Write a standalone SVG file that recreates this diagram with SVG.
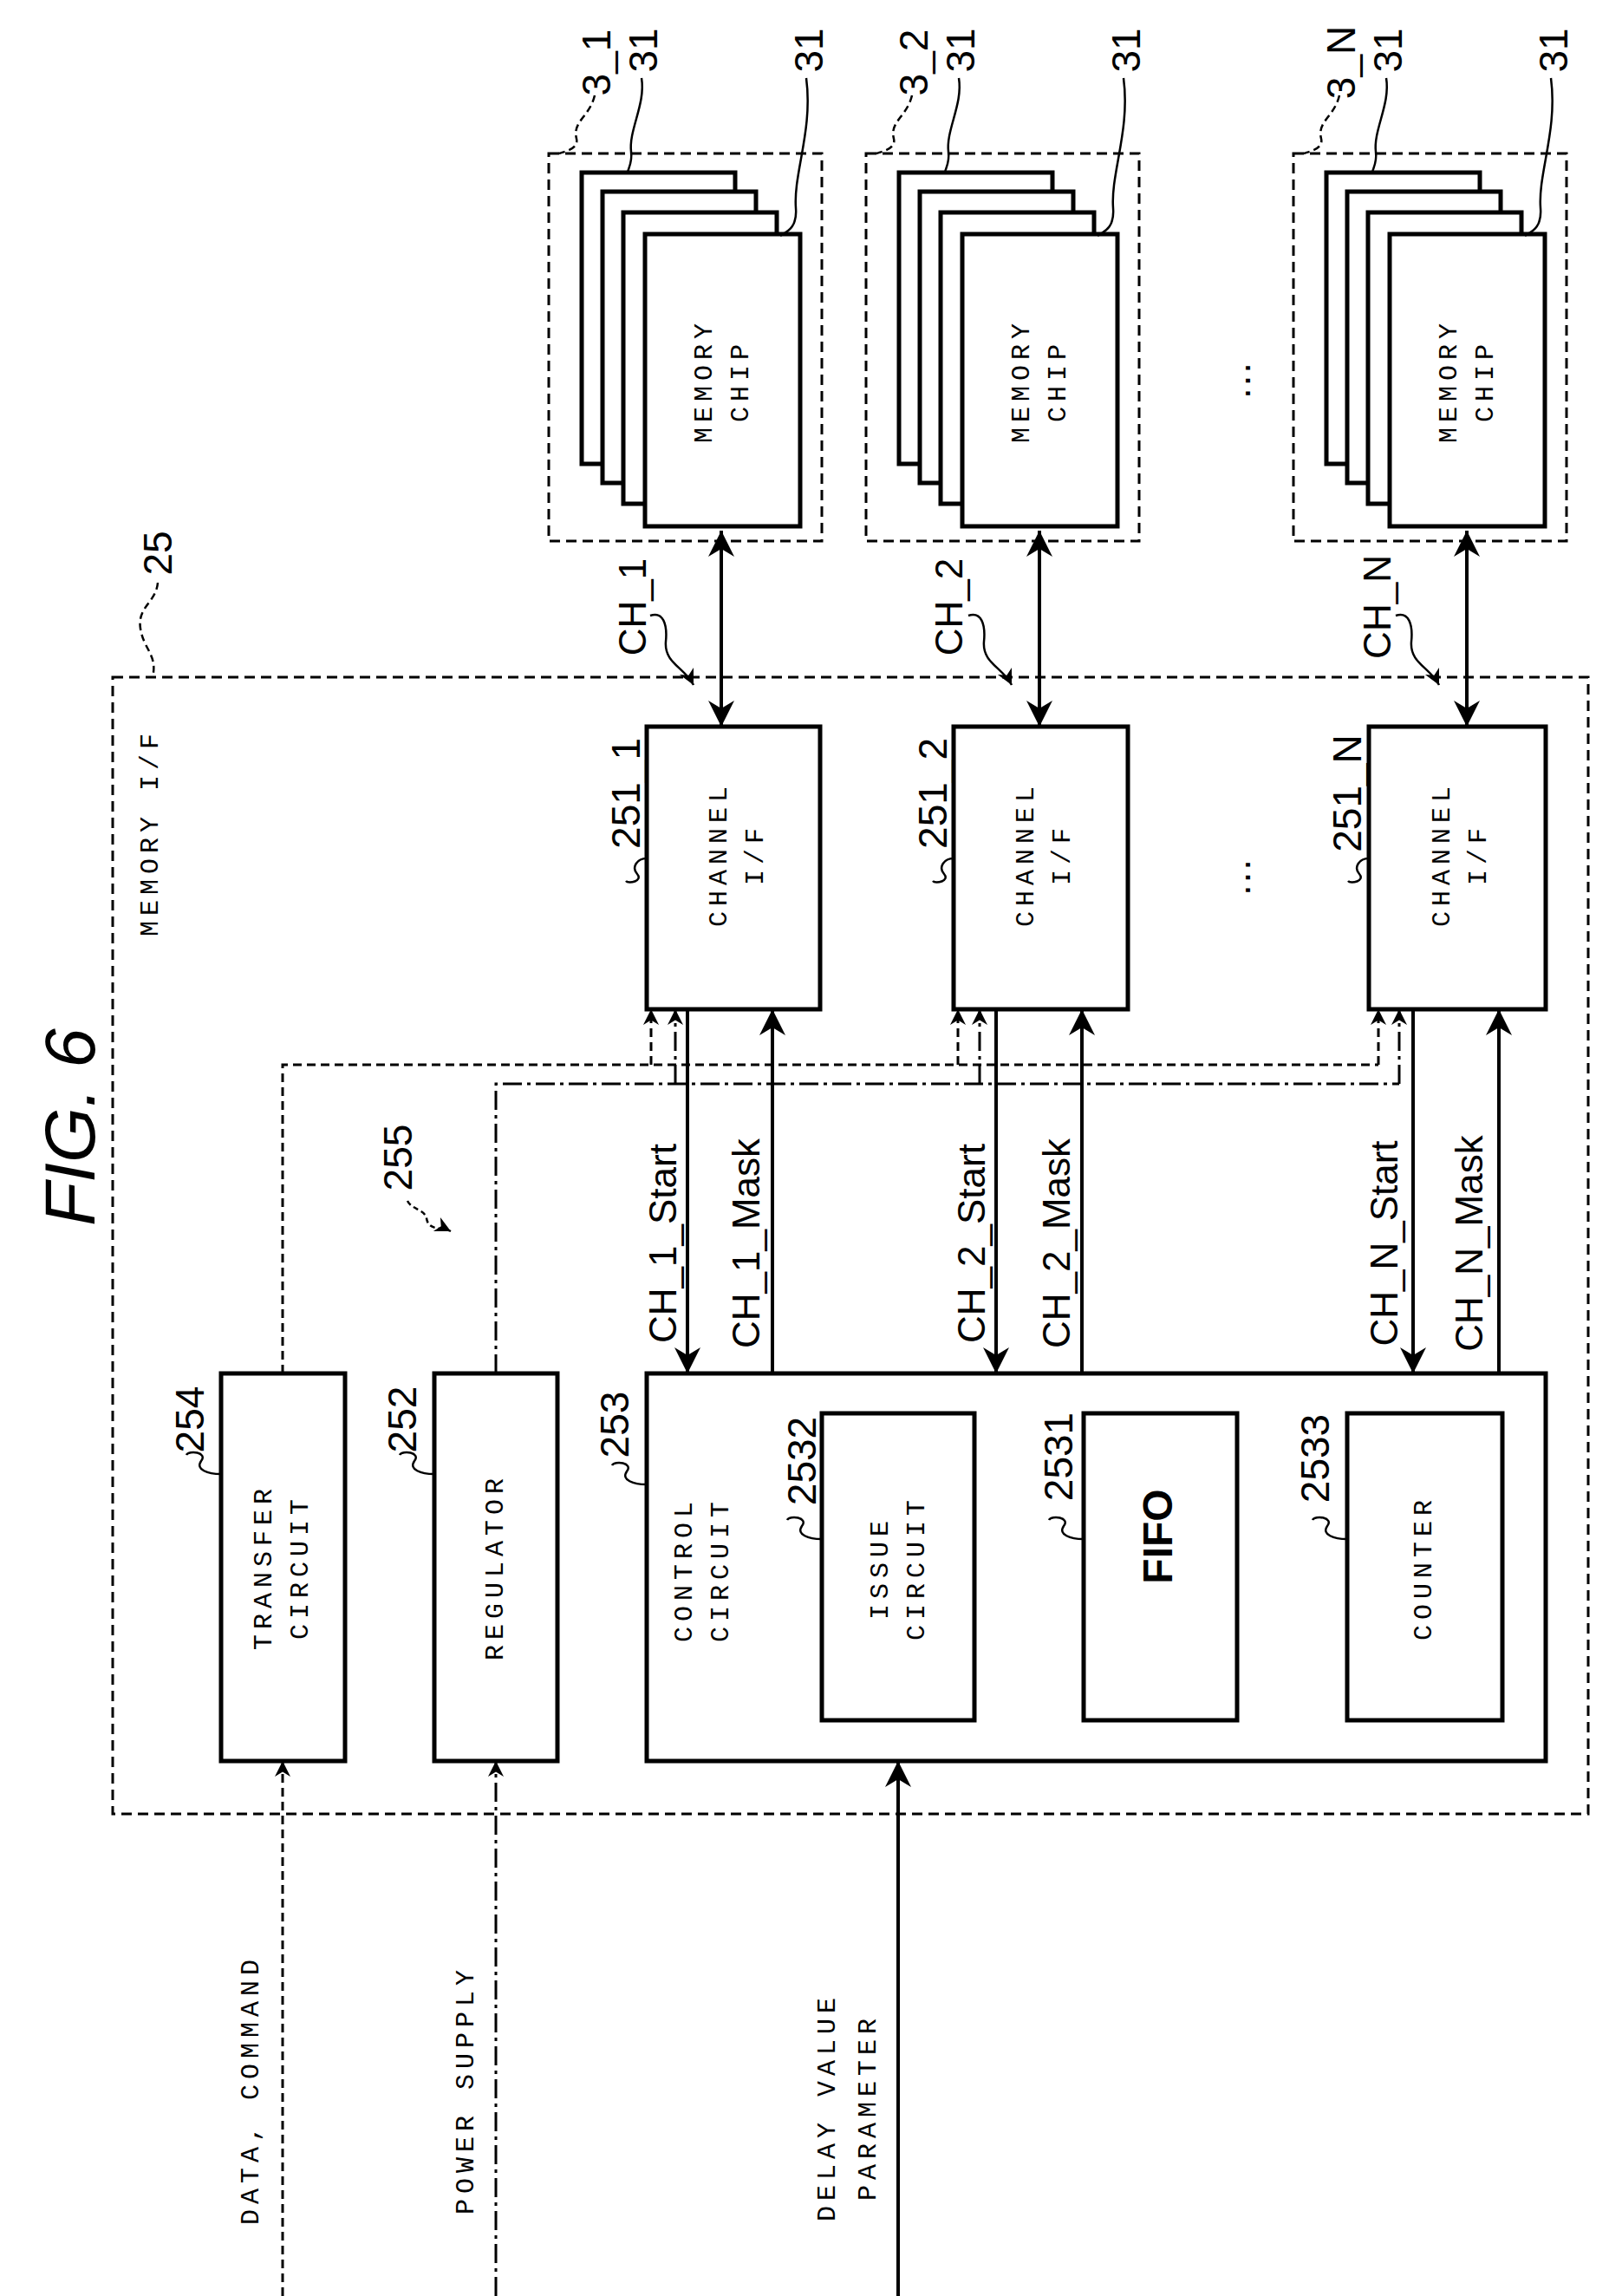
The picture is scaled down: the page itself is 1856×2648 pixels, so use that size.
<svg xmlns="http://www.w3.org/2000/svg" width="1856" height="2648" viewBox="0 0 1856 2648">
<style>
.box{fill:#fff;stroke:#000;stroke-width:5}
.dbox{fill:none;stroke:#000;stroke-width:3;stroke-dasharray:12 7}
.ln{fill:none;stroke:#000;stroke-width:4}
.sd{fill:none;stroke:#000;stroke-width:3;stroke-dasharray:10 6}
.dd{fill:none;stroke:#000;stroke-width:3;stroke-dasharray:22 6 4 6}
.lead{fill:none;stroke:#000;stroke-width:2.5}
.mono{font-family:"Liberation Mono",monospace;font-size:30px;letter-spacing:6px;text-anchor:middle;dominant-baseline:central}
.lab{font-family:"Liberation Sans",Arial,sans-serif;font-size:46px;text-anchor:middle;dominant-baseline:central}
.sig{font-family:"Liberation Sans",Arial,sans-serif;font-size:44px;text-anchor:middle;dominant-baseline:central}
</style>
<defs>
<marker id="big" viewBox="0 0 10 10" refX="10" refY="5" markerWidth="40" markerHeight="30" markerUnits="userSpaceOnUse" orient="auto-start-reverse"><path d="M0,0 L10,5 L0,10 L3,5 z" fill="#000"/></marker>
<marker id="sm" viewBox="0 0 10 10" refX="10" refY="5" markerWidth="24" markerHeight="18" markerUnits="userSpaceOnUse" orient="auto"><path d="M0,0 L10,5 L0,10 L3,5 z" fill="#000"/></marker>
<g id="chips">
<rect class="box" x="671" y="199" width="177" height="336"/>
<rect class="box" x="695" y="221" width="177" height="336"/>
<rect class="box" x="719" y="245" width="177" height="336"/>
<rect class="box" x="744" y="270" width="179" height="337"/>
</g>
</defs>

<text x="80" y="1300" transform="rotate(-90 80 1300)" style="font-family:'Liberation Sans',Arial,sans-serif;font-size:82px;font-style:italic;text-anchor:middle;dominant-baseline:central">FIG. 6</text>

<g id="n25">
<rect class="dbox" x="130" y="781" width="1702" height="1311"/>
<text class="mono" transform="translate(174 960) rotate(-90)">MEMORY I/F</text>
<text class="lab" transform="translate(182 638) rotate(-90)">25</text>
<path class="lead" stroke-dasharray="8 5" d="M182,672 C180,695 158,700 162,725 C166,750 182,755 176,781"/>
</g>

<g id="n3_1">
<rect class="dbox" x="633" y="177" width="315" height="447"/>
<use href="#chips"/>
<text class="mono" transform="translate(813 439) rotate(-90)">MEMORY</text>
<text class="mono" transform="translate(855 439) rotate(-90)">CHIP</text>
</g>
<g id="n3_2" transform="translate(366 0)">
<rect class="dbox" x="633" y="177" width="315" height="447"/>
<use href="#chips"/>
<text class="mono" transform="translate(813 439) rotate(-90)">MEMORY</text>
<text class="mono" transform="translate(855 439) rotate(-90)">CHIP</text>
</g>
<g id="n3_N" transform="translate(859 0)">
<rect class="dbox" x="633" y="177" width="315" height="447"/>
<use href="#chips"/>
<text class="mono" transform="translate(813 439) rotate(-90)">MEMORY</text>
<text class="mono" transform="translate(855 439) rotate(-90)">CHIP</text>
</g>

<g id="refs-top">
<g id="r1">
<text class="lab" transform="translate(688 72) rotate(-90)">3_1</text>
<text class="lab" transform="translate(742 58) rotate(-90)">31</text>
<text class="lab" transform="translate(933 58) rotate(-90)">31</text>
<path class="lead" stroke-dasharray="8 5" d="M686,110 C680,135 660,140 665,160 C668,172 650,175 645,177"/>
<path class="lead" d="M740,90 C745,120 725,150 728,175 C730,190 722,198 725,199"/>
<path class="lead" d="M930,90 C938,150 915,200 918,240 C920,265 905,268 900,272"/>
</g>
<g transform="translate(366 0)">
<text class="lab" transform="translate(688 72) rotate(-90)">3_2</text>
<text class="lab" transform="translate(742 58) rotate(-90)">31</text>
<text class="lab" transform="translate(933 58) rotate(-90)">31</text>
<path class="lead" stroke-dasharray="8 5" d="M686,110 C680,135 660,140 665,160 C668,172 650,175 645,177"/>
<path class="lead" d="M740,90 C745,120 725,150 728,175 C730,190 722,198 725,199"/>
<path class="lead" d="M930,90 C938,150 915,200 918,240 C920,265 905,268 900,272"/>
</g>
<g transform="translate(859 0)">
<text class="lab" transform="translate(688 72) rotate(-90)">3_N</text>
<text class="lab" transform="translate(742 58) rotate(-90)">31</text>
<text class="lab" transform="translate(933 58) rotate(-90)">31</text>
<path class="lead" stroke-dasharray="8 5" d="M686,110 C680,135 660,140 665,160 C668,172 650,175 645,177"/>
<path class="lead" d="M740,90 C745,120 725,150 728,175 C730,190 722,198 725,199"/>
<path class="lead" d="M930,90 C938,150 915,200 918,240 C920,265 905,268 900,272"/>
</g>
<text class="lab" transform="translate(1426 439) rotate(-90)">…</text>
<text class="lab" transform="translate(1426 1012) rotate(-90)">…</text>
</g>

<g id="n251_1">
<rect class="box" x="746" y="838" width="200" height="326"/>
<text class="mono" transform="translate(830 985) rotate(-90)">CHANNEL</text>
<text class="mono" transform="translate(872 985) rotate(-90)">I/F</text>
<text class="lab" transform="translate(722 915) rotate(-90)">251_1</text>
<path class="lead" d="M746,990 C735,990 728,1000 735,1008 C742,1016 725,1020 722,1016"/>
</g>
<g id="n251_2">
<rect class="box" x="1100" y="838" width="201" height="326"/>
<text class="mono" transform="translate(1184 985) rotate(-90)">CHANNEL</text>
<text class="mono" transform="translate(1226 985) rotate(-90)">I/F</text>
<text class="lab" transform="translate(1076 915) rotate(-90)">251_2</text>
<path class="lead" d="M1100,990 C1089,990 1082,1000 1089,1008 C1096,1016 1079,1020 1076,1016"/>
</g>
<g id="n251_N">
<rect class="box" x="1579" y="838" width="204" height="326"/>
<text class="mono" transform="translate(1664 985) rotate(-90)">CHANNEL</text>
<text class="mono" transform="translate(1706 985) rotate(-90)">I/F</text>
<text class="lab" transform="translate(1554 915) rotate(-90)">251_N</text>
<path class="lead" d="M1579,990 C1568,990 1561,1000 1568,1008 C1575,1016 1558,1020 1555,1016"/>
</g>

<g id="n254">
<rect class="box" x="255" y="1584" width="143" height="447"/>
<text class="mono" transform="translate(305 1807) rotate(-90)">TRANSFER</text>
<text class="mono" transform="translate(347 1807) rotate(-90)">CIRCUIT</text>
<text class="lab" transform="translate(219 1637) rotate(-90)">254</text>
<path class="lead" d="M255,1700 C240,1700 225,1695 232,1685 C240,1675 218,1672 215,1678"/>
</g>
<g id="n252">
<rect class="box" x="501" y="1584" width="142" height="447"/>
<text class="mono" transform="translate(572 1807) rotate(-90)">REGULATOR</text>
<text class="lab" transform="translate(464 1637) rotate(-90)">252</text>
<path class="lead" d="M501,1700 C486,1700 471,1695 478,1685 C486,1675 464,1672 461,1678"/>
</g>
<g id="n253">
<rect class="box" x="746" y="1584" width="1037" height="447"/>
<text class="mono" transform="translate(790 1810) rotate(-90)">CONTROL</text>
<text class="mono" transform="translate(832 1810) rotate(-90)">CIRCUIT</text>
<text class="lab" transform="translate(709 1643) rotate(-90)">253</text>
<path class="lead" d="M746,1712 C731,1712 716,1707 723,1697 C731,1687 709,1684 706,1690"/>
</g>
<g id="n2532">
<rect class="box" x="948" y="1630" width="176" height="354"/>
<text class="mono" transform="translate(1016 1808) rotate(-90)">ISSUE</text>
<text class="mono" transform="translate(1058 1808) rotate(-90)">CIRCUIT</text>
<text class="lab" transform="translate(925 1685) rotate(-90)">2532</text>
<path class="lead" d="M948,1775 C933,1775 918,1770 925,1760 C933,1750 911,1747 908,1753"/>
</g>
<g id="n2531">
<rect class="box" x="1250" y="1630" width="177" height="354"/>
<text transform="translate(1335 1772) rotate(-90)" style="font-family:'Liberation Sans',Arial,sans-serif;font-size:48px;font-weight:bold;text-anchor:middle;dominant-baseline:central">FIFO</text>
<text class="lab" transform="translate(1221 1680) rotate(-90)">2531</text>
<path class="lead" d="M1250,1775 C1235,1775 1220,1770 1227,1760 C1235,1750 1213,1747 1210,1753"/>
</g>
<g id="n2533">
<rect class="box" x="1554" y="1630" width="179" height="354"/>
<text class="mono" transform="translate(1643 1808) rotate(-90)">COUNTER</text>
<text class="lab" transform="translate(1517 1682) rotate(-90)">2533</text>
<path class="lead" d="M1554,1775 C1539,1775 1524,1770 1531,1760 C1539,1750 1517,1747 1514,1753"/>
</g>

<g id="connectors">
<line class="ln" x1="832" y1="612" x2="832" y2="838" marker-start="url(#big)" marker-end="url(#big)"/>
<line class="ln" x1="1199" y1="612" x2="1199" y2="838" marker-start="url(#big)" marker-end="url(#big)"/>
<line class="ln" x1="1692" y1="612" x2="1692" y2="838" marker-start="url(#big)" marker-end="url(#big)"/>
<line class="ln" x1="793" y1="1164" x2="793" y2="1584" marker-end="url(#big)"/>
<line class="ln" x1="891" y1="1584" x2="891" y2="1164" marker-end="url(#big)"/>
<line class="ln" x1="1149" y1="1164" x2="1149" y2="1584" marker-end="url(#big)"/>
<line class="ln" x1="1248" y1="1584" x2="1248" y2="1164" marker-end="url(#big)"/>
<line class="ln" x1="1630" y1="1164" x2="1630" y2="1584" marker-end="url(#big)"/>
<line class="ln" x1="1729" y1="1584" x2="1729" y2="1164" marker-end="url(#big)"/>
<line class="ln" x1="1036" y1="2648" x2="1036" y2="2031" marker-end="url(#big)"/>
<line class="sd" x1="326" y1="2648" x2="326" y2="2031" marker-end="url(#sm)"/>
<line class="dd" x1="572" y1="2648" x2="572" y2="2031" marker-end="url(#sm)"/>
<path class="sd" d="M326,1584 V1228 H1590"/>
<path class="dd" d="M572,1584 V1250 H1614"/>
<line class="sd" x1="751" y1="1228" x2="751" y2="1164" marker-end="url(#sm)"/>
<line class="sd" x1="1105" y1="1228" x2="1105" y2="1164" marker-end="url(#sm)"/>
<line class="sd" x1="1590" y1="1228" x2="1590" y2="1164" marker-end="url(#sm)"/>
<line class="dd" x1="779" y1="1250" x2="779" y2="1164" marker-end="url(#sm)"/>
<line class="dd" x1="1130" y1="1250" x2="1130" y2="1164" marker-end="url(#sm)"/>
<line class="dd" x1="1614" y1="1250" x2="1614" y2="1164" marker-end="url(#sm)"/>
<path class="lead" d="M470,1385 C475,1395 490,1395 492,1405 C494,1420 510,1415 520,1420" stroke-dasharray="6 4" marker-end="url(#sm)"/>
<path class="lead" d="M750,710 C765,705 770,720 768,740 C766,765 790,770 800,790" marker-end="url(#sm)"/>
<path class="lead" d="M1117,710 C1132,705 1137,720 1135,740 C1133,765 1157,770 1167,790" marker-end="url(#sm)"/>
<path class="lead" d="M1610,710 C1625,705 1630,720 1628,740 C1626,765 1650,770 1660,790" marker-end="url(#sm)"/>
</g>

<g id="signal-labels">
<text class="sig" transform="translate(764 1434) rotate(-90)">CH_1_Start</text>
<text class="sig" transform="translate(860 1434) rotate(-90)">CH_1_Mask</text>
<text class="sig" transform="translate(1120 1434) rotate(-90)">CH_2_Start</text>
<text class="sig" transform="translate(1218 1434) rotate(-90)">CH_2_Mask</text>
<text class="sig" transform="translate(1596 1434) rotate(-90)">CH_N_Start</text>
<text class="sig" transform="translate(1694 1434) rotate(-90)">CH_N_Mask</text>
<text class="sig" transform="translate(729 700) rotate(-90)">CH_1</text>
<text class="sig" transform="translate(1094 700) rotate(-90)">CH_2</text>
<text class="sig" transform="translate(1588 700) rotate(-90)">CH_N</text>
<text class="lab" transform="translate(459 1335) rotate(-90)">255</text>
<text class="mono" transform="translate(290 2410) rotate(-90)">DATA, COMMAND</text>
<text class="mono" transform="translate(538 2410) rotate(-90)">POWER SUPPLY</text>
<text class="mono" transform="translate(955 2430) rotate(-90)">DELAY VALUE</text>
<text class="mono" transform="translate(1002 2430) rotate(-90)">PARAMETER</text>
</g>
</svg>
